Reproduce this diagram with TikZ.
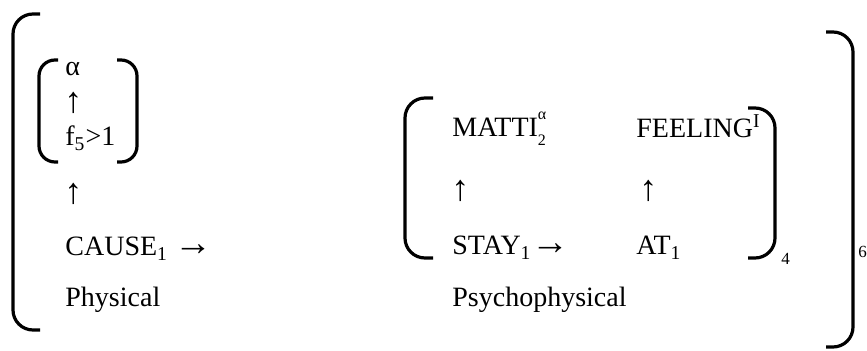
\documentclass[tikz,border=0pt]{standalone}
\usepackage{fontspec}
\setmainfont{Liberation Serif}
\usetikzlibrary{positioning}
\newcommand{\toarr}{{\fontsize{19}{20}\selectfont →}}

\begin{document}
\begin{tikzpicture}[x=0.5pt, y=-0.5pt,
    txt/.style={anchor=base west, inner sep=0pt, font=\fontsize{14}{16}\selectfont},
    uparr/.style={anchor=base west, inner sep=0pt, font=\fontsize{18}{20}\selectfont},
    idx/.style={anchor=base west, inner sep=0pt, font=\fontsize{8.5}{9}\selectfont},
    brk/.style={line width=1.6pt, rounded corners=10pt}]
  \useasboundingbox (0,0) rectangle (867,351);

  % outer bracket
  \draw[brk] (40,14) -- (13,14) -- (13,330) -- (40,330);
  \draw[brk] (826,32) -- (853,32) -- (853,347) -- (826,347);
  \node[idx] (six) at (858,258) {6};

  % physical part
  \draw[brk, rounded corners=8pt] (58,60) -- (39,60) -- (39,162) -- (58,162);
  \draw[brk, rounded corners=8pt] (117,60) -- (137,60) -- (137,162) -- (117,162);
  \node[txt] (alpha) at (65,76) {α};
  \node[uparr] (up1) at (64,113) {↑};
  \node[txt] (fval) at (65,146) {f\textsubscript{5}>1};
  \node[uparr] (up2) at (64,204) {↑};
  \node[txt] (cause) at (65,256) {CAUSE\textsubscript{1} \toarr};
  \node[txt] (phys) at (65,307) {Physical};

  % psychophysical part
  \draw[brk] (433,98) -- (405,98) -- (405,258) -- (433,258);
  \draw[brk] (748,108) -- (775,108) -- (775,258) -- (748,258);
  \node[idx] (four) at (781,265) {4};
  \node[txt] (matti) at (452,137) {MATTI\rlap{\raisebox{0.62em}{\footnotesize α}}\raisebox{-0.3em}{\footnotesize 2}};
  \node[txt] (feel) at (636,138) {FEELING\textsuperscript{I}};
  \node[uparr] (up3) at (451,201) {↑};
  \node[uparr] (up4) at (639,201) {↑};
  \node[txt] (stay) at (452,255) {STAY\textsubscript{1}\toarr};
  \node[txt] (at) at (636,255) {AT\textsubscript{1}};
  \node[txt] (psy) at (452,307) {Psychophysical};
\end{tikzpicture}
\end{document}
